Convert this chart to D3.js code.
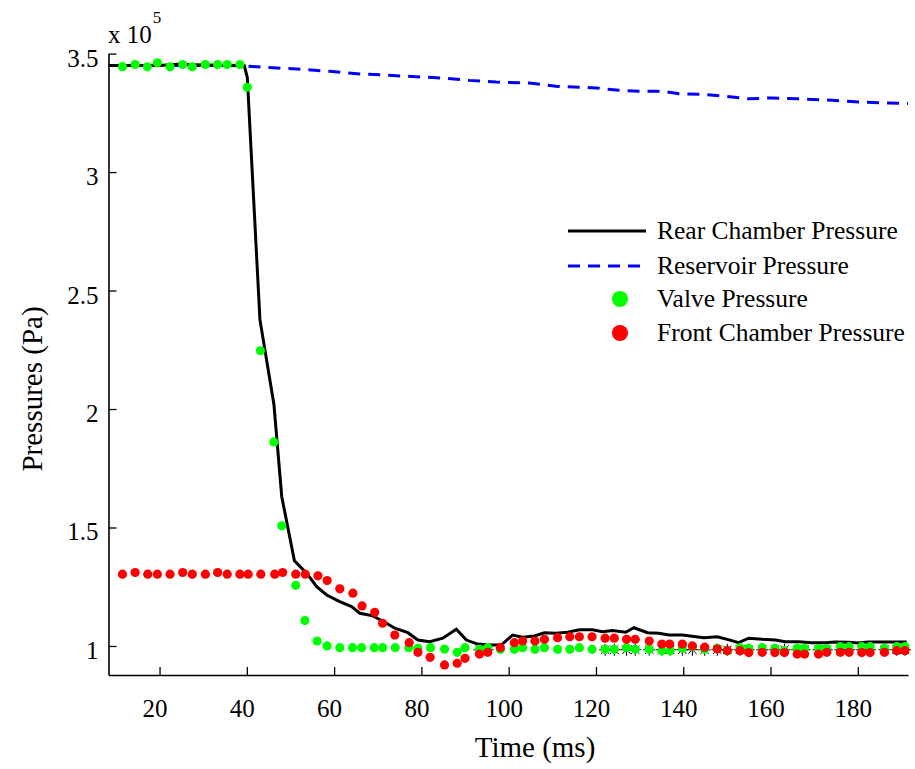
<!DOCTYPE html>
<html>
<head>
    <title>Pressures</title>
</head>
<style>
body { margin: 0; background: white; }
text { font-family: "Liberation Serif", "DejaVu Serif", serif; fill: black; }
</style>
<body>

<script src="https://cdn.jsdelivr.net/npm/d3@7/dist/d3.min.js"></script>
<script>

// values in units of 1e5 Pa, time in ms
var rearPressure = [[8.3,3.45],[20,3.45],[24,3.455],[30,3.452],[39.4,3.45],[40.1,3.40],[43.0,2.377],[46.2,2.02],
    [48.0,1.63],[50.9,1.36],[53.7,1.307],[56.0,1.25],[58.3,1.215],[61.3,1.187],[64.0,1.166],[65.9,1.138],
    [68.9,1.127],[72.0,1.096],[73.9,1.075],[76.9,1.056],[79.2,1.025],[81.9,1.018],[84.9,1.033],[88.0,1.071],
    [90.3,1.025],[92.9,1.008],[95.6,1.004],[98.3,1.004],[100.9,1.046],[103.2,1.037],[105.9,1.042],[108.2,1.056],
    [110.8,1.054],[113.5,1.058],[116.2,1.068],[119.2,1.068],[121.5,1.06],[123.8,1.065],[126.8,1.058],[128.7,1.077],
    [131.8,1.056],[134.4,1.054],[136.7,1.046],[139.8,1.046],[144.7,1.035],[147.8,1.039],[150.1,1.028],[152.7,1.014],
    [155.0,1.033],[158.1,1.028],[161.1,1.025],[163.4,1.018],[166.4,1.018],[169.5,1.014],[172.5,1.014],[174.8,1.017],
    [177.9,1.016],[180.2,1.013],[182.4,1.017],[186.3,1.017],[191.2,1.017]];

var reservoirPressure = [[8.3,3.45],[20,3.45],[30,3.45],[38.5,3.449],[46.1,3.44],[51.4,3.435],[59.0,3.425],
    [65.9,3.414],[70.4,3.411],[78.8,3.402],[84.9,3.397],[91.0,3.387],[97.1,3.38],[104.7,3.376],[110.8,3.362],
    [120.0,3.355],[125.3,3.345],[129.9,3.341],[135.2,3.341],[139.0,3.331],[145.1,3.327],[149.7,3.32],
    [155.0,3.309],[160.3,3.313],[166.4,3.309],[174.1,3.303],[180.2,3.296],[185.5,3.292],[191.5,3.289]];

var valvePressure = [[11.5,3.445],[14.4,3.454],[17.2,3.444],[19.5,3.461],[22.4,3.444],[25.3,3.454],[27.5,3.444],
    [30.5,3.454],[33.3,3.454],[35.5,3.454],[38.4,3.454],[40.1,3.358],[43.1,2.246],[46.2,1.861],[48.0,1.507],
    [51.2,1.256],[53.3,1.107],[56.1,1.021],[58.4,1.0],[61.3,0.993],[64.2,0.993],[66.3,0.993],[69.2,0.993],
    [71.1,0.993],[74.0,0.993],[77.1,0.993],[79.2,0.99],[82.1,0.993],[85.3,0.987],[88.2,0.973],[90.0,0.993],
    [93.3,0.986],[95.2,0.993],[98.1,0.986],[101.3,0.986],[103.2,0.993],[106.0,0.986],[108.2,0.993],[111.2,0.986],
    [114.0,0.986],[116.2,0.993],[119.1,0.986],[122.1,0.986],[124.2,0.986],[127.0,0.993],[129.0,0.986],
    [132.2,0.986],[135.1,0.98],[137.0,0.98],[139.8,0.99],[142.1,0.997],[144.9,0.986],[147.8,0.99],[150.1,0.98],
    [153.0,0.992],[155.0,0.99],[158.1,0.993],[161.0,0.99],[163.2,0.98],[166.1,0.99],[167.8,0.99],[171.0,0.989],
    [172.9,0.989],[176.0,0.997],[178.0,0.997],[180.9,0.997],[182.8,0.997],[186.1,0.99],[188.9,0.997],[190.8,0.997]];

var frontPressure = [[11.5,1.303],[14.4,1.31],[17.3,1.303],[19.5,1.303],[22.4,1.303],[25.3,1.31],[27.5,1.303],
    [30.5,1.303],[33.3,1.31],[35.5,1.303],[38.4,1.303],[40.3,1.303],[43.2,1.303],[46.4,1.303],[48.2,1.31],
    [51.2,1.303],[53.4,1.303],[56.3,1.296],[58.4,1.276],[61.3,1.241],[64.3,1.223],[66.4,1.169],[69.3,1.142],
    [71.1,1.096],[73.9,1.046],[77.2,1.014],[79.2,0.973],[82.0,0.952],[85.3,0.92],[88.2,0.927],[90.0,0.948],
    [93.3,0.966],[95.2,0.973],[98.1,0.993],[101.3,1.014],[103.2,1.021],[106.0,1.021],[108.2,1.028],[111.2,1.035],
    [114.0,1.039],[116.2,1.039],[119.1,1.039],[122.1,1.033],[124.2,1.033],[127.0,1.028],[129.0,1.028],
    [132.2,1.021],[135.1,1.008],[136.9,1.008],[139.8,1.008],[142.1,1.0],[144.9,0.995],[147.8,0.987],[150.1,0.98],
    [153.0,0.98],[155.0,0.972],[158.1,0.973],[161.0,0.972],[163.2,0.972],[166.1,0.966],[167.8,0.966],[171.0,0.966],
    [172.9,0.973],[176.0,0.973],[178.0,0.973],[180.9,0.972],[182.8,0.972],[186.1,0.973],[188.9,0.98],[190.8,0.98]];

// unlabelled black asterisks sitting under the green dots
var starPoints = [[93.3,0.984],[95.2,0.984],[122.1,0.984],[124.2,0.984],[127.0,0.984],[129.0,0.984],
    [132.2,0.984],[135.1,0.984],[137.0,0.984],[139.8,0.984],[142.1,0.984],[144.9,0.984],[147.8,0.984],
    [150.1,0.984],[153.0,0.984],[155.0,0.984],[158.1,0.984],[161.0,0.984],[163.2,0.984],[166.1,0.984],
    [167.8,0.984],[171.0,0.984],[172.9,0.984],[176.0,0.984],[178.0,0.984],[180.9,0.984],[182.8,0.984],
    [186.1,0.984],[188.9,0.984],[190.8,0.984]];

var xTicks = [20, 40, 60, 80, 100, 120, 140, 160, 180];
var yTicks = [1, 1.5, 2, 2.5, 3, 3.5];

var w = 915;
var h = 769;

var svg = d3.select("body").append("svg")
    .attr("width", w)
    .attr("height", h);

var xScale = d3.scaleLinear()
    .domain([8.3, 191.5])
    .range([108.5, 908]);
var yScale = d3.scaleLinear()
    .domain([0.8775, 3.5])
    .range([675, 53.6]);

// axes: ticks point inward
svg.append("g")
    .attr("class", "x axis")
    .attr("transform", "translate(0," + yScale(0.8775) + ")")
    .call(d3.axisBottom(xScale).tickValues(xTicks).tickSizeInner(-8).tickSizeOuter(0).tickPadding(24));
svg.append("g")
    .attr("class", "y axis")
    .attr("transform", "translate(" + xScale(8.3) + ",0)")
    .call(d3.axisLeft(yScale).tickValues(yTicks).tickSizeInner(-8).tickSizeOuter(0).tickPadding(10)
        .tickFormat(function(d) { return d; }));

svg.selectAll(".domain").attr("stroke", "black").attr("stroke-width", 1.6);
svg.selectAll(".tick line").attr("stroke", "black").attr("stroke-width", 1.3);
svg.selectAll(".tick text")
    .attr("font-family", "Liberation Serif")
    .attr("font-size", "25px")
    .attr("fill", "black");
// labels sit slightly left of / below their ticks in the original
svg.selectAll(".x.axis .tick text").attr("dx", -5);
svg.selectAll(".y.axis .tick text").attr("dy", "0.5em");

var line = d3.line()
    .x(function(d) { return xScale(d[0]); })
    .y(function(d) { return yScale(d[1]); });

svg.append("path")
    .datum(reservoirPressure)
    .attr("d", line)
    .attr("fill", "none")
    .attr("stroke", "#0000ff")
    .attr("stroke-width", 3)
    .attr("stroke-dasharray", "12,8");

svg.append("path")
    .datum(rearPressure)
    .attr("d", line)
    .attr("fill", "none")
    .attr("stroke", "black")
    .attr("stroke-width", 3);

// asterisks
svg.selectAll("path.star")
    .data(starPoints)
    .enter()
    .append("path")
    .attr("class", "star")
    .attr("d", "M-6,0H6M0,-6V6M-4.2,-4.2L4.2,4.2M-4.2,4.2L4.2,-4.2")
    .attr("transform", function(d) { return "translate(" + xScale(d[0]) + "," + yScale(d[1]) + ")"; })
    .attr("stroke", "black")
    .attr("stroke-width", 1)
    .attr("fill", "none");

svg.selectAll("circle.valve")
    .data(valvePressure)
    .enter()
    .append("circle")
    .attr("class", "valve")
    .attr("cx", function(d) { return xScale(d[0]); })
    .attr("cy", function(d) { return yScale(d[1]); })
    .attr("r", 4.6)
    .attr("fill", "#00ff00");

svg.selectAll("circle.front")
    .data(frontPressure)
    .enter()
    .append("circle")
    .attr("class", "front")
    .attr("cx", function(d) { return xScale(d[0]); })
    .attr("cy", function(d) { return yScale(d[1]); })
    .attr("r", 4.6)
    .attr("fill", "#ff0000");

// labels
svg.append("text")
    .text("Time (ms)")
    .attr("x", 535)
    .attr("y", 757)
    .attr("font-size", "29px")
    .attr("text-anchor", "middle");

svg.append("text")
    .text("Pressures (Pa)")
    .attr("transform", "translate(42,389) rotate(-90)")
    .attr("font-size", "29px")
    .attr("text-anchor", "middle");

var exp = svg.append("text")
    .attr("x", 108)
    .attr("y", 43)
    .attr("font-size", "25px");
exp.append("tspan").text("x 10");
exp.append("tspan").text("5").attr("font-size", "17px").attr("dy", -20).attr("dx", 1);

// legend
var legend = [
    {label: "Rear Chamber Pressure", type: "solid"},
    {label: "Reservoir Pressure", type: "dash"},
    {label: "Valve Pressure", type: "green"},
    {label: "Front Chamber Pressure", type: "red"}
];
var legendY = [231, 266, 299, 333];

var lg = svg.selectAll("g.legend")
    .data(legend)
    .enter()
    .append("g")
    .attr("class", "legend")
    .attr("transform", function(d, i) { return "translate(0," + legendY[i] + ")"; });

lg.filter(function(d) { return d.type == "solid" || d.type == "dash"; })
    .append("line")
    .attr("x1", 568)
    .attr("x2", 646)
    .attr("stroke", function(d) { return d.type == "solid" ? "black" : "#0000ff"; })
    .attr("stroke-width", 3)
    .attr("stroke-dasharray", function(d) { return d.type == "dash" ? "12,8" : null; });

lg.filter(function(d) { return d.type == "green" || d.type == "red"; })
    .append("circle")
    .attr("cx", 620)
    .attr("r", 8)
    .attr("fill", function(d) { return d.type == "green" ? "#00ff00" : "#ff0000"; });

lg.append("text")
    .text(function(d) { return d.label; })
    .attr("x", 657)
    .attr("y", 8)
    .attr("font-size", "25.5px");

</script>
</body>
</html>
